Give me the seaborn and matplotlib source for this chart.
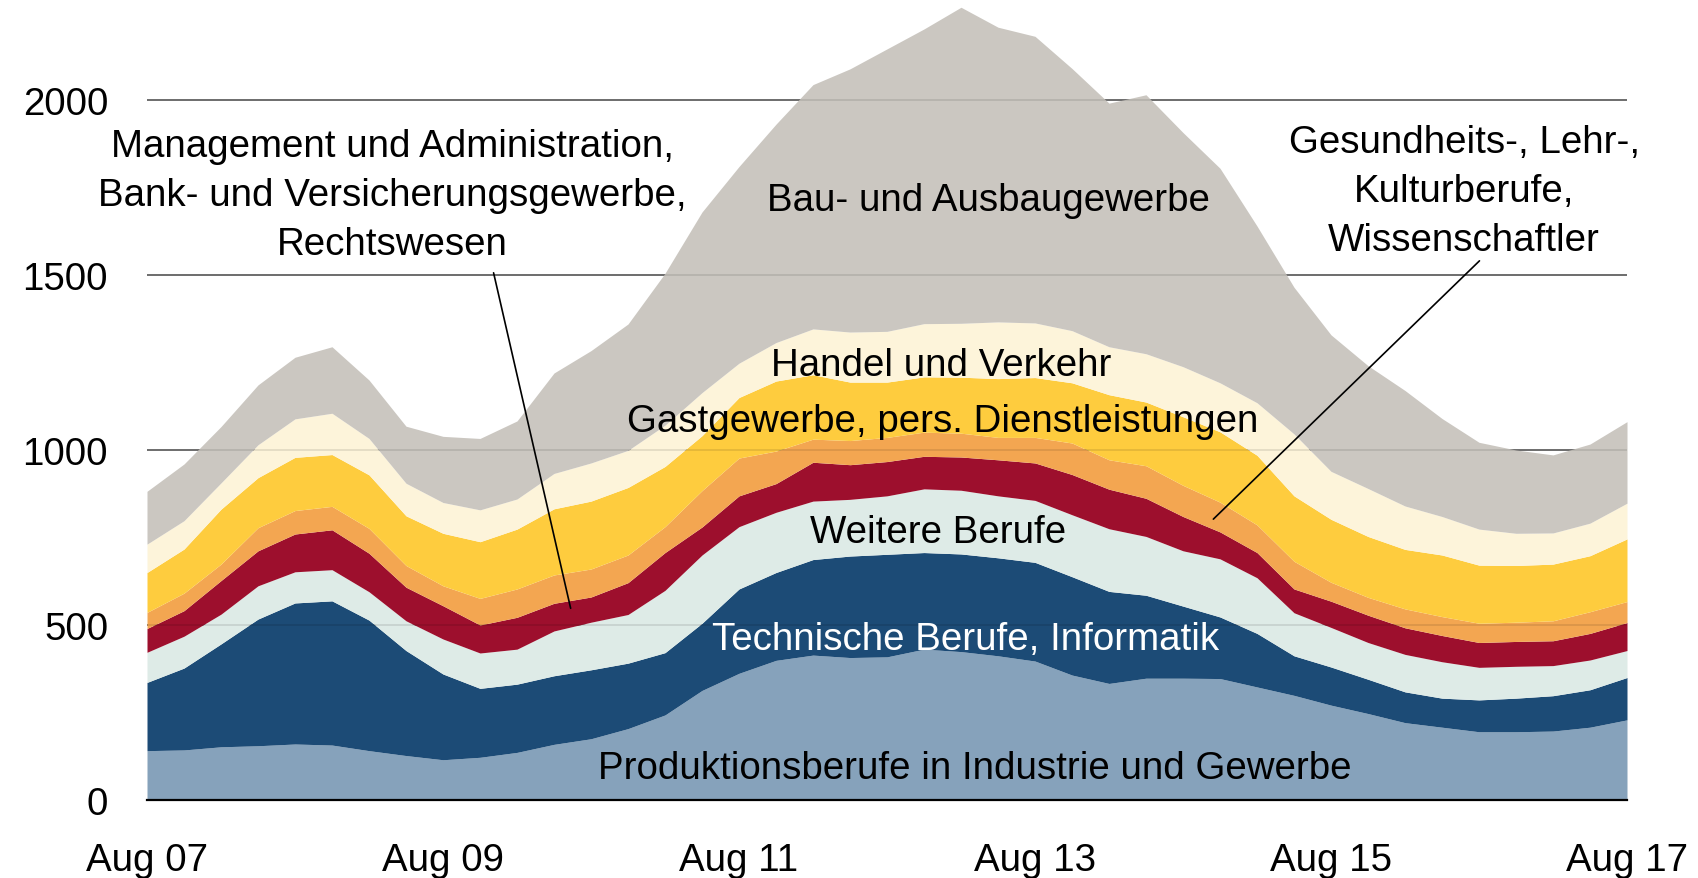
import numpy as np
import pandas as pd
import matplotlib
matplotlib.use("Agg")
import matplotlib.pyplot as plt
import seaborn as sns

# ---------------- data (quarterly, Aug 2007 - Aug 2017) ----------------
dates = pd.date_range("2007-08-01", "2017-08-01", freq="3MS")

produktion = [141, 143, 152, 155, 160, 157, 141, 127, 115, 122, 136, 159, 175, 204, 243, 313,
              362, 399, 414, 407, 409, 431, 424, 412, 397, 357, 333, 348, 348, 347, 323, 299,
              271, 247, 221, 208, 195, 195, 197, 208, 229]
technische = [195, 234, 294, 362, 403, 412, 373, 300, 245, 197, 195, 196, 197, 187, 178, 192,
              241, 251, 273, 290, 293, 276, 279, 280, 282, 281, 263, 237, 206, 176, 153, 113,
              109, 98, 88, 83, 91, 96, 101, 107, 121]
weitere = [86, 91, 85, 95, 89, 89, 81, 85, 100, 101, 100, 128, 136, 139, 178, 195,
           178, 172, 167, 162, 167, 182, 182, 177, 177, 177, 179, 168, 158, 166, 159, 123,
           113, 105, 107, 104, 93, 91, 86, 85, 77]
management = [68, 73, 96, 100, 108, 114, 110, 96, 95, 80, 91, 79, 72, 91, 108, 80,
              88, 82, 111, 99, 98, 93, 95, 103, 107, 115, 113, 109, 98, 77, 72, 68,
              75, 78, 76, 75, 71, 71, 71, 76, 80]
gesundheit = [46, 50, 47, 66, 67, 67, 71, 62, 57, 76, 81, 81, 80, 79, 74, 104,
              108, 93, 66, 69, 69, 69, 68, 64, 73, 90, 84, 93, 89, 85, 79, 79,
              54, 51, 54, 54, 55, 55, 57, 62, 60]
gastgewerbe = [114, 126, 157, 143, 152, 148, 153, 142, 150, 162, 171, 189, 194, 193, 172, 157,
               173, 200, 184, 167, 158, 158, 160, 168, 171, 172, 186, 182, 196, 201, 199, 187,
               180, 174, 170, 176, 166, 162, 162, 160, 179]
handel = [81, 81, 75, 94, 110, 118, 104, 93, 88, 91, 86, 101, 109, 106, 118, 123,
          98, 110, 131, 143, 145, 152, 154, 162, 156, 149, 137, 138, 143, 140, 150, 177,
          137, 137, 124, 110, 103, 92, 89, 93, 102]
bau = [151, 162, 161, 171, 176, 190, 167, 163, 189, 204, 223, 287, 321, 361, 434, 516,
       562, 624, 698, 752, 807, 842, 903, 842, 819, 749, 696, 740, 669, 613, 505, 419,
       390, 351, 330, 280, 248, 238, 223, 226, 233]

layer_names = ["Produktionsberufe in Industrie und Gewerbe",
               "Technische Berufe, Informatik",
               "Weitere Berufe",
               "Management und Administration,\nBank- und Versicherungsgewerbe,\nRechtswesen",
               "Gesundheits-, Lehr-,\nKulturberufe,\nWissenschaftler",
               "Gastgewerbe, pers. Dienstleistungen",
               "Handel und Verkehr",
               "Bau- und Ausbaugewerbe"]
layer_colors = ["#86a2bb", "#1c4b76", "#deebe7", "#9d0f2d",
                "#f3a651", "#fecc3e", "#fdf4da", "#cbc7c1"]

y_ticks = [0, 500, 1000, 1500, 2000]
x_tick_labels = ["Aug 07", "", "Aug 09", "", "Aug 11", "", "Aug 13", "", "Aug 15", "", "Aug 17"]

df = pd.DataFrame({"date": dates})
for name, vals in zip(layer_names, [produktion, technische, weitere, management,
                                    gesundheit, gastgewerbe, handel, bau]):
    df[name] = vals
df["month"] = (df["date"].dt.year - 2007) * 12 + (df["date"].dt.month - 8)

# ---------------- style ----------------
sns.set_style("white")
plt.rcParams["font.family"] = ["Liberation Sans", "DejaVu Sans"]
FS = 27.7

fig = plt.figure(figsize=(16.98, 8.79), dpi=100)
ax = fig.add_axes([147 / 1698, 1 - 801 / 879, 1480 / 1698, 801 / 879])

ax.stackplot(df["month"], *[df[n] for n in layer_names], colors=layer_colors,
             linewidth=0, zorder=2)

# grid lines: dark behind, faint on top
for v in y_ticks[1:]:
    ax.axhline(v, color="#555555", lw=1.1, zorder=1)
    ax.axhline(v, color="black", lw=1.1, alpha=0.12, zorder=3)

ax.set_xlim(0, 120)
ax.set_ylim(0, 801 / 0.35)

ax.set_yticks(y_ticks)
ax.set_yticklabels([str(v) for v in y_ticks])
ax.set_xticks(np.arange(0, 121, 12))
ax.set_xticklabels(x_tick_labels)
ax.tick_params(axis="y", length=0, pad=28, labelsize=FS, colors="black")
ax.tick_params(axis="x", length=8.5, width=1.6, direction="out", pad=22,
               labelsize=FS, colors="black")
for s in ["top", "right", "left"]:
    ax.spines[s].set_visible(False)
ax.spines["bottom"].set_color("black")
ax.spines["bottom"].set_linewidth(1.6)
ax.spines["bottom"].set_zorder(5)

# ---------------- labels ----------------
txt = dict(fontsize=FS, ha="center", va="center", zorder=6)
ax.text(68.2, 1713, "Bau- und Ausbaugewerbe", color="black", **txt)
ax.text(64.4, 1243, "Handel und Verkehr", color="black", **txt)
ax.text(64.5, 1083, "Gastgewerbe, pers. Dienstleistungen", color="black", **txt)
ax.text(64.1, 766, "Weitere Berufe", color="black", **txt)
ax.text(66.4, 460, "Technische Berufe, Informatik", color="white", **txt)
ax.text(67.1, 91, "Produktionsberufe in Industrie und Gewerbe", color="black", **txt)
ax.text(19.9, 1729, layer_names[3], color="black", multialignment="center",
        linespacing=1.46, **txt)
ax.text(106.8, 1740, layer_names[4], color="black", multialignment="center",
        linespacing=1.46, **txt)

ax.annotate("", xy=(34.4, 540), xytext=(28.05, 1514),
            arrowprops=dict(arrowstyle="-", color="black", lw=1.2), zorder=6)
ax.annotate("", xy=(86.3, 797), xytext=(108.2, 1546),
            arrowprops=dict(arrowstyle="-", color="black", lw=1.2), zorder=6)

fig.savefig("out.png", dpi=100)
